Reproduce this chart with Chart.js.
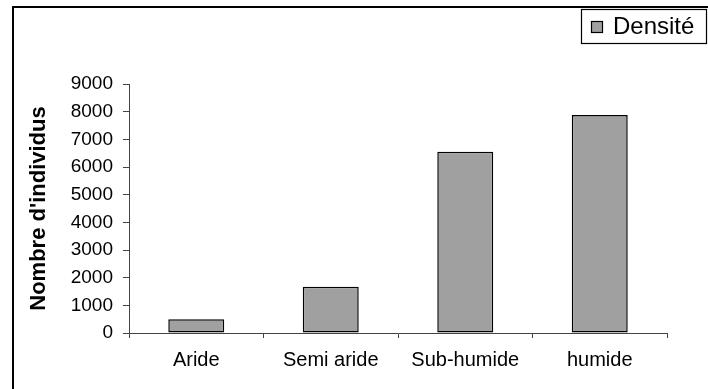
<!DOCTYPE html>
<html>
<head>
<meta charset="utf-8">
<script src="https://cdn.jsdelivr.net/npm/chart.js@4/dist/chart.umd.min.js"></script>
<style>
  html, body { margin: 0; padding: 0; background: #fff; }
  #c { display: block; }
</style>
</head>
<body>
<canvas id="c" width="708" height="389"></canvas>
<script>
// Zones climatiques et densité observée
const categories = ['Aride', 'Semi aride', 'Sub-humide', 'humide'];
const densite = [500, 1670, 6550, 7880];
const seriesLabel = 'Densité';
const axisTitle = "Nombre d'individus";
const yMin = 0;
const yMax = 9000;
const yStep = 1000;

const barFill = '#a0a0a0';
const axisColor = '#444444';

Chart.defaults.font.family = '"Liberation Sans", Arial, sans-serif';

// Outer frame and boxed legend drawn over the chart
const frameAndLegend = {
  id: 'frameAndLegend',
  afterDraw(chart) {
    const ctx = chart.ctx;
    const ds = chart.data.datasets[0];
    ctx.save();
    ctx.strokeStyle = '#000';
    ctx.lineWidth = 2;
    ctx.beginPath();
    ctx.moveTo(13, chart.height);
    ctx.lineTo(13, 7);
    ctx.lineTo(chart.width, 7);
    ctx.stroke();

    ctx.lineWidth = 1.2;
    ctx.strokeRect(581.5, 9.5, 125, 34);
    ctx.fillStyle = ds.backgroundColor;
    ctx.fillRect(591, 21, 12, 12);
    ctx.strokeRect(591.5, 21.5, 11, 11);
    ctx.fillStyle = '#000';
    ctx.font = '24px "Liberation Sans", Arial, sans-serif';
    ctx.textBaseline = 'middle';
    ctx.textAlign = 'left';
    ctx.fillText(ds.label, 613, 27.5);
    ctx.restore();
  }
};

new Chart(document.getElementById('c'), {
  type: 'bar',
  data: {
    labels: categories,
    datasets: [{
      label: seriesLabel,
      data: densite,
      backgroundColor: barFill,
      borderColor: '#000',
      borderWidth: 1.5,
      borderSkipped: false,
      categoryPercentage: 1,
      barPercentage: 0.416
    }]
  },
  options: {
    responsive: false,
    animation: false,
    devicePixelRatio: 1,
    layout: { padding: { left: 0, top: 84, right: 41, bottom: 0 } },
    plugins: {
      legend: { display: false },
      tooltip: { enabled: false }
    },
    scales: {
      x: {
        grid: { drawOnChartArea: false, tickLength: 5, color: axisColor, offset: true },
        border: { color: axisColor, width: 1 },
        ticks: { color: '#000', font: { size: 20 }, padding: 10, maxRotation: 0 },
        afterFit(scale) { scale.height = 56; }
      },
      y: {
        min: yMin,
        max: yMax,
        ticks: {
          stepSize: yStep,
          color: '#000',
          font: { size: 19 },
          padding: 10,
          callback: v => String(v)
        },
        grid: { drawOnChartArea: false, tickLength: 6, color: axisColor },
        border: { color: axisColor, width: 1 },
        title: {
          display: true,
          text: axisTitle,
          color: '#000',
          font: { size: 22, weight: 'bold' },
          padding: { top: 26, bottom: 0 }
        },
        afterFit(scale) { scale.width = 129; }
      }
    }
  },
  plugins: [frameAndLegend]
});
</script>
</body>
</html>
